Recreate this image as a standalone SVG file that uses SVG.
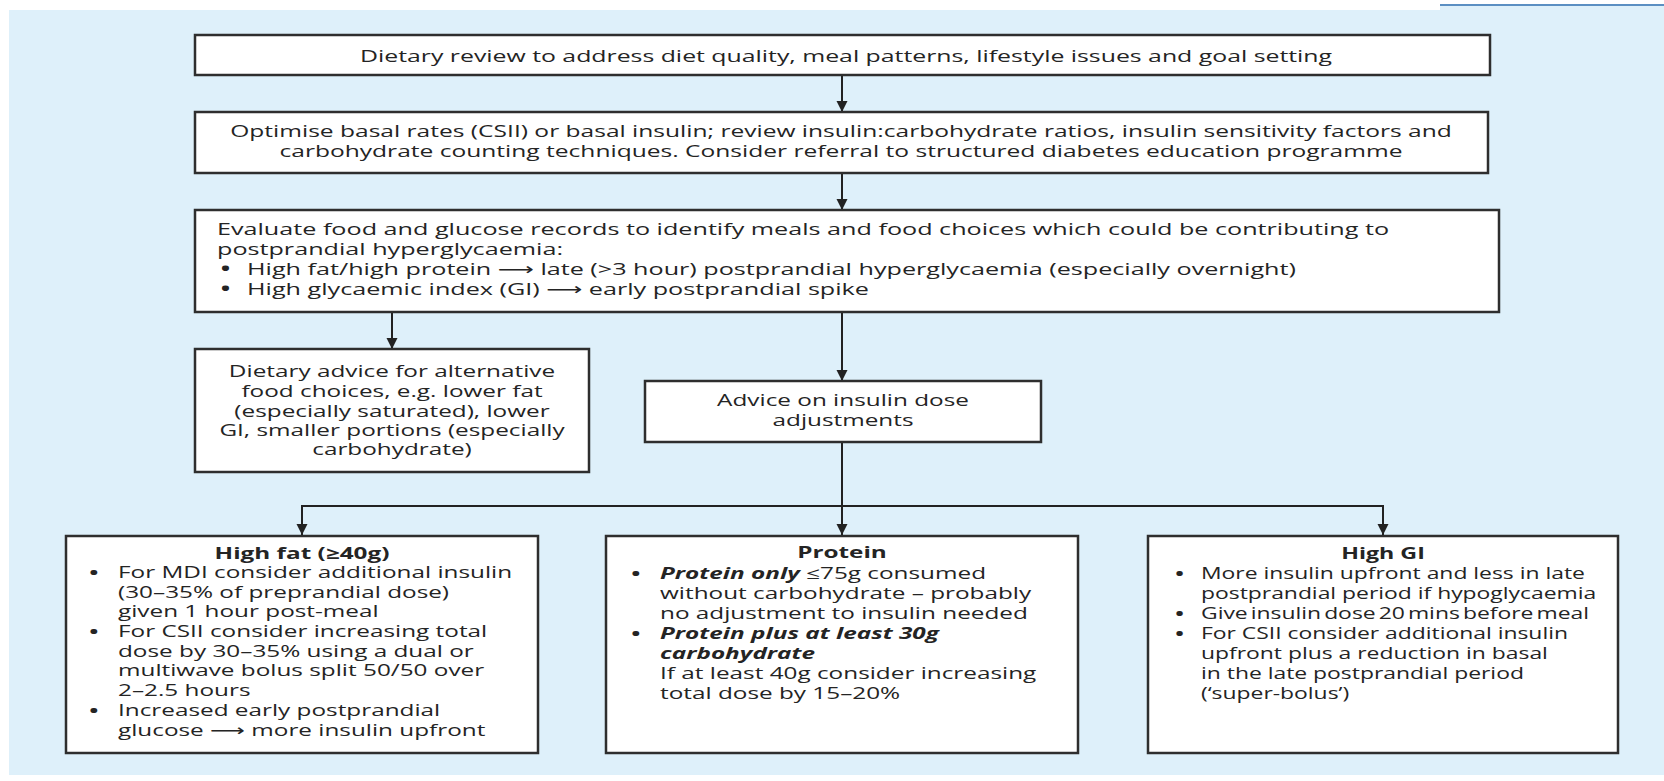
<svg xmlns="http://www.w3.org/2000/svg" width="1664" height="781" viewBox="0 0 1664 781">
<style>
.bg{fill:#def0fa}
.box{fill:#ffffff;stroke:#2e2e2e;stroke-width:2.5}
.t{font-family:"Open Sans","Liberation Sans","DejaVu Sans",sans-serif;fill:#242424}
.t17{font-size:17px}
.t16{font-size:16px}
.c{text-anchor:middle}
.b{font-weight:bold}
.bi{font-weight:bold;font-style:italic}
.bul{font-weight:bold}
.conn{stroke:#222;stroke-width:2;fill:none}
</style>
<defs>
<marker id="ah" viewBox="0 0 10 10" refX="10" refY="5" markerWidth="11" markerHeight="12" markerUnits="userSpaceOnUse" orient="auto">
<path d="M0,0 L10,5 L0,10 z" fill="#222"/>
</marker>
</defs>
<rect x="0" y="0" width="1664" height="781" fill="#ffffff"/>
<rect class="bg" x="9" y="10" width="1655" height="765"/>
<rect class="bg" x="1440" y="6" width="224" height="5"/>
<line x1="1440" y1="5" x2="1664" y2="5" stroke="#5b8fc2" stroke-width="2"/>

<g id="connectors">
<path class="conn" d="M842,75 V112" marker-end="url(#ah)"/>
<path class="conn" d="M842,173 V210" marker-end="url(#ah)"/>
<path class="conn" d="M392,312 V349" marker-end="url(#ah)"/>
<path class="conn" d="M842,312 V381" marker-end="url(#ah)"/>
<path class="conn" d="M842,442 V535" marker-end="url(#ah)"/>
<path class="conn" d="M842,506 H302 V535" marker-end="url(#ah)"/>
<path class="conn" d="M842,506 H1383 V535" marker-end="url(#ah)"/>
</g>

<g id="n1">
<rect class="box" x="195" y="35" width="1295" height="40"/>
<text class="t t17 c" transform="translate(846,62) scale(1.46,1)">Dietary review to address diet quality, meal patterns, lifestyle issues and goal setting</text>
</g>

<g id="n2">
<rect class="box" x="195" y="112" width="1293" height="61"/>
<text class="t t17 c" transform="translate(841,0) scale(1.445,1)"><tspan x="0" y="137">Optimise basal rates (CSII) or basal insulin; review insulin:carbohydrate ratios, insulin sensitivity factors and</tspan><tspan x="0" y="157">carbohydrate counting techniques. Consider referral to structured diabetes education programme</tspan></text>
</g>

<g id="n3">
<rect class="box" x="195" y="210" width="1304" height="102"/>
<text class="t t17" transform="translate(217,0) scale(1.48,1)"><tspan x="0" y="235">Evaluate food and glucose records to identify meals and food choices which could be contributing to</tspan><tspan x="0" y="255">postprandial hyperglycaemia:</tspan><tspan class="bul" x="2.5" y="275">•</tspan><tspan x="20.3" y="275">High fat/high protein ⟶ late (&gt;3 hour) postprandial hyperglycaemia (especially overnight)</tspan><tspan class="bul" x="2.5" y="295">•</tspan><tspan x="20.3" y="295">High glycaemic index (GI) ⟶ early postprandial spike</tspan></text>
</g>

<g id="n4">
<rect class="box" x="195" y="349" width="394" height="123"/>
<text class="t t16 c" transform="translate(392,0) scale(1.52,1)"><tspan x="0" y="377">Dietary advice for alternative</tspan><tspan x="0" y="397">food choices, e.g. lower fat</tspan><tspan x="0" y="417">(especially saturated), lower</tspan><tspan x="0" y="436">GI, smaller portions (especially</tspan><tspan x="0" y="455">carbohydrate)</tspan></text>
</g>

<g id="n5">
<rect class="box" x="645" y="381" width="396" height="61"/>
<text class="t t16 c" transform="translate(843,0) scale(1.52,1)"><tspan x="0" y="406">Advice on insulin dose</tspan><tspan x="0" y="426">adjustments</tspan></text>
</g>

<g id="n6">
<rect class="box" x="66" y="536" width="472" height="217"/>
<text class="t t16 c b" transform="translate(302,559) scale(1.52,1)">High fat (≥40g)</text>
<text class="t t16" transform="translate(118,0) scale(1.52,1)"><tspan class="bul" x="-19" y="578">•</tspan><tspan x="0" y="578">For MDI consider additional insulin</tspan><tspan x="0" y="598">(30–35% of preprandial dose)</tspan><tspan x="0" y="617">given 1 hour post-meal</tspan><tspan class="bul" x="-19" y="637">•</tspan><tspan x="0" y="637">For CSII consider increasing total</tspan><tspan x="0" y="657">dose by 30–35% using a dual or</tspan><tspan x="0" y="676">multiwave bolus split 50/50 over</tspan><tspan x="0" y="696">2–2.5 hours</tspan><tspan class="bul" x="-19" y="716">•</tspan><tspan x="0" y="716">Increased early postprandial</tspan><tspan x="0" y="736">glucose ⟶ more insulin upfront</tspan></text>
</g>

<g id="n7">
<rect class="box" x="606" y="536" width="472" height="217"/>
<text class="t t16 c b" transform="translate(842,558) scale(1.52,1)">Protein</text>
<text class="t t16" transform="translate(660,0) scale(1.52,1)"><tspan class="bul" x="-19" y="579">•</tspan><tspan x="0" y="579" class="bi">Protein only</tspan><tspan> ≤75g consumed</tspan><tspan x="0" y="599">without carbohydrate – probably</tspan><tspan x="0" y="619">no adjustment to insulin needed</tspan><tspan class="bul" x="-19" y="639">•</tspan><tspan x="0" y="639" class="bi">Protein plus at least 30g</tspan><tspan x="0" y="659" class="bi">carbohydrate</tspan><tspan x="0" y="679">If at least 40g consider increasing</tspan><tspan x="0" y="699">total dose by 15–20%</tspan></text>
</g>

<g id="n8">
<rect class="box" x="1148" y="536" width="470" height="217"/>
<text class="t t16 c b" transform="translate(1383,559) scale(1.45,1)">High GI</text>
<text class="t t16" transform="translate(1201,0) scale(1.43,1)"><tspan class="bul" x="-18" y="579">•</tspan><tspan x="0" y="579">More insulin upfront and less in late</tspan><tspan x="0" y="599">postprandial period if hypoglycaemia</tspan><tspan class="bul" x="-18" y="619">•</tspan><tspan x="0" y="619" word-spacing="-2">Give insulin dose 20 mins before meal</tspan><tspan class="bul" x="-18" y="639">•</tspan><tspan x="0" y="639">For CSII consider additional insulin</tspan><tspan x="0" y="659">upfront plus a reduction in basal</tspan><tspan x="0" y="679">in the late postprandial period</tspan><tspan x="0" y="699">(‘super-bolus’)</tspan></text>
</g>
</svg>
